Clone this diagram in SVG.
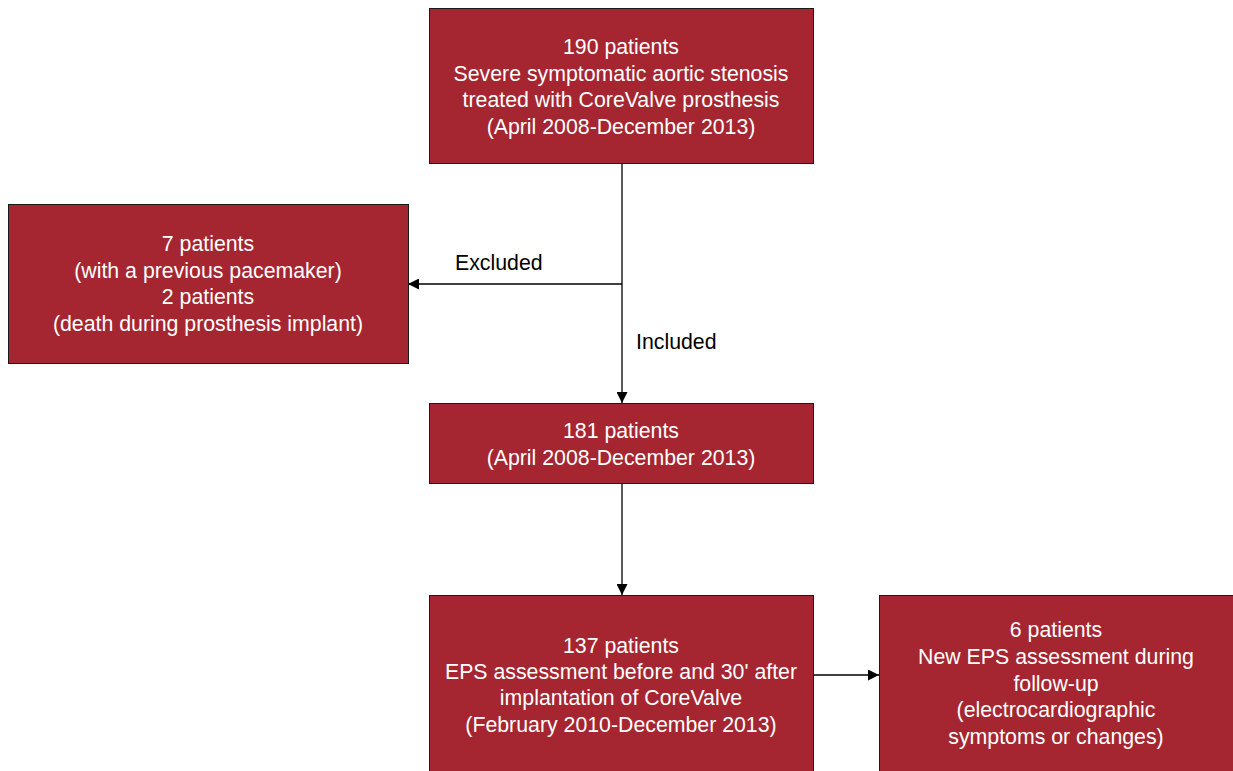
<svg xmlns="http://www.w3.org/2000/svg" width="1233" height="771" viewBox="0 0 1233 771">
<defs>
<style>
.box{fill:#A52631;stroke:#1a1a1a;stroke-width:1}
.t{font-family:"Liberation Sans",Arial,sans-serif;font-size:21.3px;fill:#ffffff;text-anchor:middle}
.l{font-family:"Liberation Sans",Arial,sans-serif;font-size:21.3px;fill:#000000}
.c{stroke:#000;stroke-width:1.3;fill:none}
</style>
<marker id="ah" viewBox="0 0 10 10" refX="10" refY="5" markerWidth="11" markerHeight="11" markerUnits="userSpaceOnUse" orient="auto">
<path d="M0,0 L10,5 L0,10 z" fill="#000"/>
</marker>
</defs>
<g id="connectors">
<path class="c" d="M622,163 V403" marker-end="url(#ah)"/>
<path class="c" d="M622,284 H408" marker-end="url(#ah)"/>
<path class="c" d="M622,483 V595" marker-end="url(#ah)"/>
<path class="c" d="M813,675 H879" marker-end="url(#ah)"/>
<text class="l" x="455" y="270">Excluded</text>
<text class="l" x="636" y="349">Included</text>
</g>
<g id="n190">
<rect class="box" x="429.5" y="8.5" width="384" height="155"/>
<text class="t" x="621" y="54">190 patients</text>
<text class="t" x="621" y="81">Severe symptomatic aortic stenosis</text>
<text class="t" x="621" y="107">treated with CoreValve prosthesis</text>
<text class="t" x="621" y="134">(April 2008-December 2013)</text>
</g>
<g id="nexcl">
<rect class="box" x="8.5" y="204.5" width="400" height="159"/>
<text class="t" x="208" y="251">7 patients</text>
<text class="t" x="208" y="278">(with a previous pacemaker)</text>
<text class="t" x="208" y="304">2 patients</text>
<text class="t" x="208" y="331">(death during prosthesis implant)</text>
</g>
<g id="n181">
<rect class="box" x="429.5" y="403.5" width="384" height="80"/>
<text class="t" x="621" y="438">181 patients</text>
<text class="t" x="621" y="465">(April 2008-December 2013)</text>
</g>
<g id="n137">
<rect class="box" x="429.5" y="595.5" width="384" height="180"/>
<text class="t" x="621" y="653">137 patients</text>
<text class="t" x="621" y="679">EPS assessment before and 30' after</text>
<text class="t" x="621" y="705">implantation of CoreValve</text>
<text class="t" x="621" y="732">(February 2010-December 2013)</text>
</g>
<g id="n6">
<rect class="box" x="879.5" y="595.5" width="360" height="180"/>
<text class="t" x="1056" y="637">6 patients</text>
<text class="t" x="1056" y="664">New EPS assessment during</text>
<text class="t" x="1056" y="691">follow-up</text>
<text class="t" x="1056" y="717">(electrocardiographic</text>
<text class="t" x="1056" y="744">symptoms or changes)</text>
</g>
</svg>
